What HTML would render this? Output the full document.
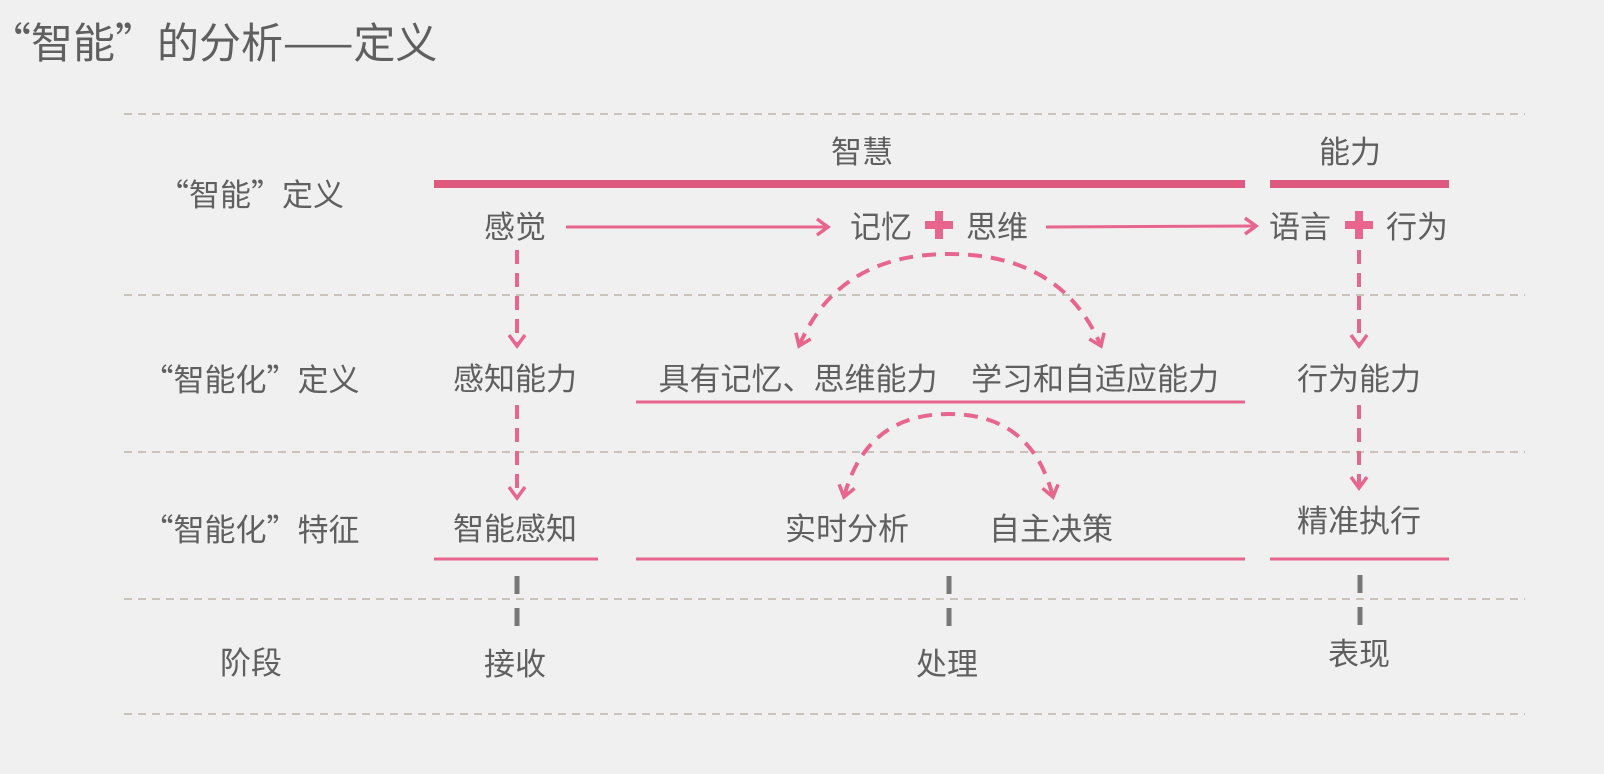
<!DOCTYPE html>
<html><head><meta charset="utf-8"><style>
html,body{margin:0;padding:0;background:#f0f0f0;}
svg{display:block;}
text{font-family:"Noto Sans CJK SC","Liberation Sans",sans-serif;fill:#5f5f5f;}
</style></head><body>
<svg width="1604" height="774" viewBox="0 0 1604 774" xmlns="http://www.w3.org/2000/svg">
<defs>
<marker id="ah" markerWidth="22" markerHeight="22" refX="14" refY="10" orient="auto-start-reverse" markerUnits="userSpaceOnUse">
<path d="M3,2 L14,10 L3,18" fill="none" stroke="#e8668e" stroke-width="3.5"/>
</marker>
</defs>
<text x="-11" y="58" font-size="42">“智能”的分析——定义</text>
<g stroke="#c8c4bc" stroke-width="2" stroke-dasharray="8,6">
<line x1="124" y1="114" x2="1525" y2="114"/>
<line x1="124" y1="295" x2="1525" y2="295"/>
<line x1="124" y1="452" x2="1525" y2="452"/>
<line x1="124" y1="599" x2="1525" y2="599"/>
<line x1="124" y1="714" x2="1525" y2="714"/>
</g>
<g font-size="31" text-anchor="middle">
<text x="251" y="206">“智能”定义</text>
<text x="251" y="391">“智能化”定义</text>
<text x="251" y="541">“智能化”特征</text>
<text x="251" y="674">阶段</text>
<text x="862" y="163">智慧</text>
<text x="1350" y="163">能力</text>
<text x="515" y="238">感觉</text>
<text x="881" y="238">记忆</text>
<text x="997" y="238">思维</text>
<text x="1300" y="238">语言</text>
<text x="1417" y="238">行为</text>
<text x="515" y="390">感知能力</text>
<text x="798" y="390">具有记忆、思维能力</text>
<text x="1095" y="390">学习和自适应能力</text>
<text x="1359" y="390">行为能力</text>
<text x="515" y="540">智能感知</text>
<text x="847" y="540">实时分析</text>
<text x="1051" y="540">自主决策</text>
<text x="1359" y="532">精准执行</text>
<text x="515" y="675">接收</text>
<text x="947" y="675">处理</text>
<text x="1359" y="665">表现</text>
</g>
<g fill="#e05a80">
<rect x="434" y="180" width="811" height="8"/>
<rect x="1270" y="180" width="179" height="8"/>
</g>
<g fill="#e8668e">
<rect x="935" y="211" width="8" height="28"/><rect x="925" y="221" width="28" height="8"/>
<rect x="1355" y="211" width="8" height="28"/><rect x="1345" y="221" width="28" height="8"/>
</g>
<g stroke="#e8668e" stroke-width="3" fill="none">
<line x1="566" y1="227" x2="828" y2="227" marker-end="url(#ah)"/>
<line x1="1046" y1="227" x2="1256" y2="226" marker-end="url(#ah)"/>
<line x1="636" y1="402" x2="1245" y2="402"/>
<line x1="434" y1="559" x2="598" y2="559"/>
<line x1="636" y1="559" x2="1245" y2="559"/>
<line x1="1270" y1="559" x2="1449" y2="559"/>
</g>
<g stroke="#e8668e" stroke-width="4" fill="none" stroke-dasharray="14,9">
<line x1="517" y1="250" x2="517" y2="346" marker-end="url(#ah)"/>
<line x1="517" y1="405" x2="517" y2="498" marker-end="url(#ah)"/>
<line x1="1359" y1="250" x2="1359" y2="346" marker-end="url(#ah)"/>
<line x1="1359" y1="405" x2="1359" y2="488" marker-end="url(#ah)"/>
<path d="M799,346 Q838,254 949,254 Q1062,254 1101,346" marker-start="url(#ah)" marker-end="url(#ah)"/>
<path d="M844,497 Q866,414 949,414 Q1032,414 1053,497" marker-start="url(#ah)" marker-end="url(#ah)"/>
</g>
<g stroke="#777" stroke-width="5" stroke-dasharray="18,14">
<line x1="517" y1="576" x2="517" y2="626"/>
<line x1="949" y1="576" x2="949" y2="626"/>
<line x1="1360" y1="575" x2="1360" y2="626"/>
</g>
</svg>
</body></html>
